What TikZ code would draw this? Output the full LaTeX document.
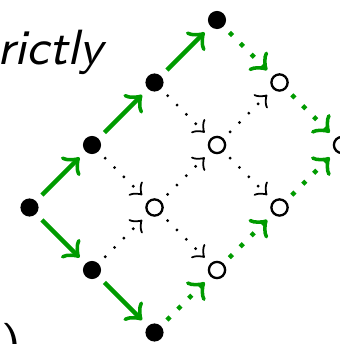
\documentclass[tikz,border=0pt]{standalone}
\definecolor{grn}{RGB}{0,155,0}
\begin{document}
\begin{tikzpicture}[x=0.181818pt,y=-0.181818pt,>=to,
  full/.style={circle,fill=black,inner sep=0pt,minimum size=3.3pt,outer sep=1.55pt},
  hollow/.style={circle,draw=black,line width=0.42pt,inner sep=0pt,minimum size=2.95pt,outer sep=1.7pt},
  win/.style={->,draw=grn,line width=0.8pt},
  winlater/.style={->,draw=grn,line width=0.8pt,dotted},
  other/.style={->,draw=black,line width=0.4pt,dotted},
  txt/.style={inner sep=0pt,font=\fontsize{9}{11}\selectfont\sffamily}]
\useasboundingbox (0,0) rectangle (339,344);

% lattice: n<i><j> sits at (29.5+62.5(i+j), 207.5-62.5(i-j))
\node[full]   (n00) at (29.5,207.5) {};
\node[full]   (n10) at (92,145) {};
\node[full]   (n20) at (154.5,82.5) {};
\node[full]   (n30) at (217,20) {};
\node[full]   (n01) at (92,270) {};
\node[full]   (n02) at (154.5,332.5) {};
\node[hollow] (n11) at (154.5,207.5) {};
\node[hollow] (n21) at (217,145) {};
\node[hollow] (n31) at (279.5,82.5) {};
\node[hollow] (n12) at (217,270) {};
\node[hollow] (n22) at (279.5,207.5) {};
\node[hollow] (n32) at (342,145) {};

% text fragments
\node[txt,font=\fontsize{9}{11}\selectfont\sffamily\itshape,anchor=base west] (word) at (-4,65) {rictly};
\node[txt,anchor=base west] (paren) at (0,360) {)};

% solid green paths
\draw[win] (n00) -- (n10);
\draw[win] (n10) -- (n20);
\draw[win] (n20) -- (n30);
\draw[win] (n00) -- (n01);
\draw[win] (n01) -- (n02);

% dotted green paths
\draw[winlater] (n30) -- (n31);
\draw[winlater] (n31) -- (n32);
\draw[winlater] (n02) -- (n12);
\draw[winlater] (n12) -- (n22);
\draw[winlater] (n22) -- (n32);

% remaining dotted black edges
\draw[other] (n10) -- (n11);
\draw[other] (n20) -- (n21);
\draw[other] (n01) -- (n11);
\draw[other] (n11) -- (n21);
\draw[other] (n21) -- (n31);
\draw[other] (n11) -- (n12);
\draw[other] (n21) -- (n22);
\end{tikzpicture}
\end{document}
